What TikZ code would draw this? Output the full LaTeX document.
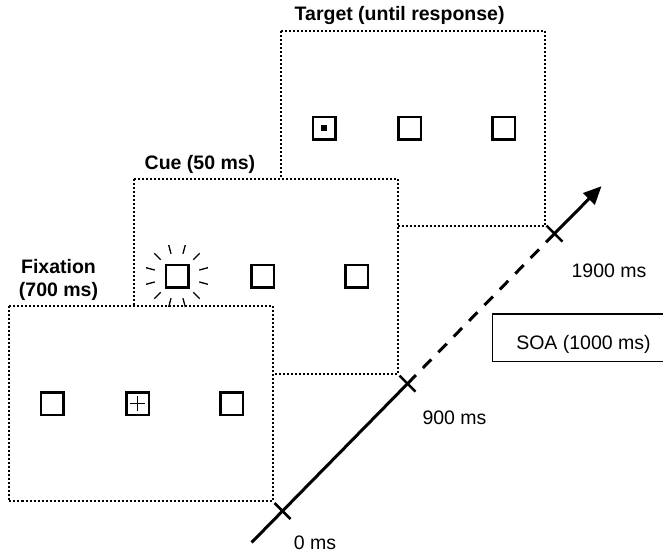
\documentclass[tikz,border=0pt]{standalone}
\usepackage{fontspec}
\setmainfont{Liberation Sans}
\usetikzlibrary{arrows.meta,calc}
\newcommand\fsz{\fontsize{19.5}{22.7}\selectfont}
\tikzset{frm/.style={draw,fill=white,line width=2pt,dash pattern=on 2pt off 2pt},
 bx/.style={draw,line width=2.5pt,minimum size=22.5pt,inner sep=0pt},
 ray/.style={line width=1.3pt},tl/.style={line width=3pt},tk/.style={line width=2.5pt},
 hd/.style={font=\fsz\bfseries},box/.style={line width=1.3pt}}
\begin{document}
\begin{tikzpicture}[x=1pt,y=-1pt,font=\fsz]
\useasboundingbox(0,0)rectangle(663,556);
\draw[frm](280.5,31)rectangle++(264,195);
\draw[frm](133.5,178.5)rectangle++(264,195);
\draw[frm](8.5,306)rectangle++(264,195);
\foreach \fx/\fy/\f in {8.5/306/f,133.5/178.5/c,280.5/31/t}{
 \foreach \x/\n in {43.5/a,129/b,223/c}{\node[bx](\f\n) at(\fx+\x,\fy+97.5){};}}
\draw[ray]($(fb)+(-7.5,0)$)--($(fb)+(7.5,0)$);\draw[ray]($(fb)+(0,-7.5)$)--($(fb)+(0,7.5)$);
\node[fill,minimum size=6pt,inner sep=0pt](dot) at(ta){};
\foreach \a in {15,45,...,345}{\draw[ray]($(ca)+(\a:23)$)--($(ca)+(\a:32)$);}
\node[hd](tgt) at(399.6,16){Target (until response)};
\node[hd](cue) at(200,164){Cue (50 ms)};
\node[hd,align=center](fix) at(58.5,280){Fixation\\(700 ms)};
\coordinate(s) at(251.6,542.5);\coordinate(t0) at(282.5,511);
\coordinate(t9) at(407.5,383.7);\coordinate(t19) at(554.5,233.6);
\coordinate(e) at(601.5,186.2);
\draw[tl](s)--(t9);
\draw[tl,dash pattern=on 12pt off 10pt](t9)--(t19);
\draw[tl,-{Triangle[length=18pt,width=16pt]}](t19)--(e);
\foreach \p in {t0,t9,t19}{\draw[tk]($(\p)+(-8,-8)$)--($(\p)+(8,8)$);}
\node(l0) at(315,543){0 ms};\node(l9) at(454.5,418){900 ms};
\node(l19) at(609,271){1900 ms};
\node(soa) at(583.5,344){SOA (1000 ms)};
\draw[box](664,314)-|(492.7,361.5)--(664,361.5);
\end{tikzpicture}
\end{document}
